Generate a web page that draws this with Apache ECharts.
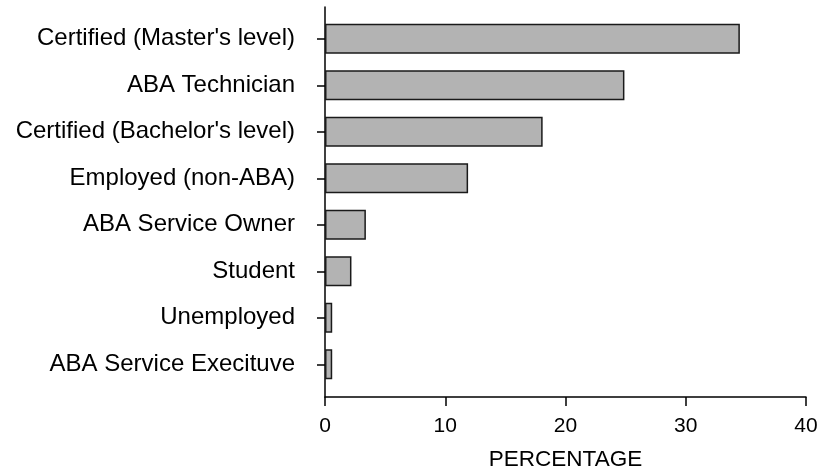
<!DOCTYPE html>
<html>
<head>
<meta charset="utf-8">
<script src="https://cdn.jsdelivr.net/npm/echarts@6/dist/echarts.min.js"></script>
<style>html,body{margin:0;padding:0;background:#fff;}#c{width:821px;height:473px;}</style>
</head>
<body>
<div id="c"></div>
<script>
const categories = ["Certified (Master's level)", "ABA Technician", "Certified (Bachelor's level)", "Employed (non-ABA)", "ABA Service Owner", "Student", "Unemployed", "ABA Service Execituve"];
const percentages = [34.5, 24.9, 18.1, 11.9, 3.4, 2.2, 0.6, 0.6];
const xTicks = [0, 10, 20, 30, 40];
const xTitle = "PERCENTAGE";

const font = 'Liberation Sans, Arial, sans-serif';
const chart = echarts.init(document.getElementById('c'));
chart.setOption({
  animation: false,
  grid: [
    {left: 325, right: 15, top: 15.5, bottom: 85.5, containLabel: false, outerBoundsMode: 'none'},
    {left: 325, right: 15, top: 7, bottom: 76, containLabel: false, outerBoundsMode: 'none'}
  ],
  xAxis: [
    {gridIndex: 0, type: 'value', min: xTicks[0], max: xTicks[xTicks.length-1], interval: 10, show: false},
    {gridIndex: 1, type: 'value', min: xTicks[0], max: xTicks[xTicks.length-1], interval: 10,
     name: xTitle, nameLocation: 'middle', nameGap: 51,
     nameTextStyle: {color: '#000', fontSize: 22.5, fontFamily: font},
     axisLine: {show: true, lineStyle: {color: '#000', width: 1.5}},
     axisTick: {show: true, length: 9, lineStyle: {color: '#000', width: 1.5}},
     axisLabel: {color: '#000', fontSize: 21, fontFamily: font, margin: 19},
     splitLine: {show: false}}
  ],
  yAxis: [
    {gridIndex: 0, type: 'category', data: categories, inverse: true,
     axisLine: {show: false},
     axisTick: {show: true, alignWithLabel: true, length: 8, lineStyle: {color: '#000', width: 1.5}},
     axisLabel: {color: '#000', fontSize: 24, fontFamily: font, margin: 30},
     splitLine: {show: false}},
    {gridIndex: 1, type: 'value', min: 0, max: 1,
     axisLine: {show: true, lineStyle: {color: '#000', width: 1.5}},
     axisTick: {show: false}, axisLabel: {show: false}, splitLine: {show: false}}
  ],
  series: [{
    type: 'bar', xAxisIndex: 0, yAxisIndex: 0,
    data: percentages, barCategoryGap: '36%',
    itemStyle: {color: '#b3b3b3', borderColor: '#1a1a1a', borderWidth: 1.5}
  }]
});
</script>
</body>
</html>
